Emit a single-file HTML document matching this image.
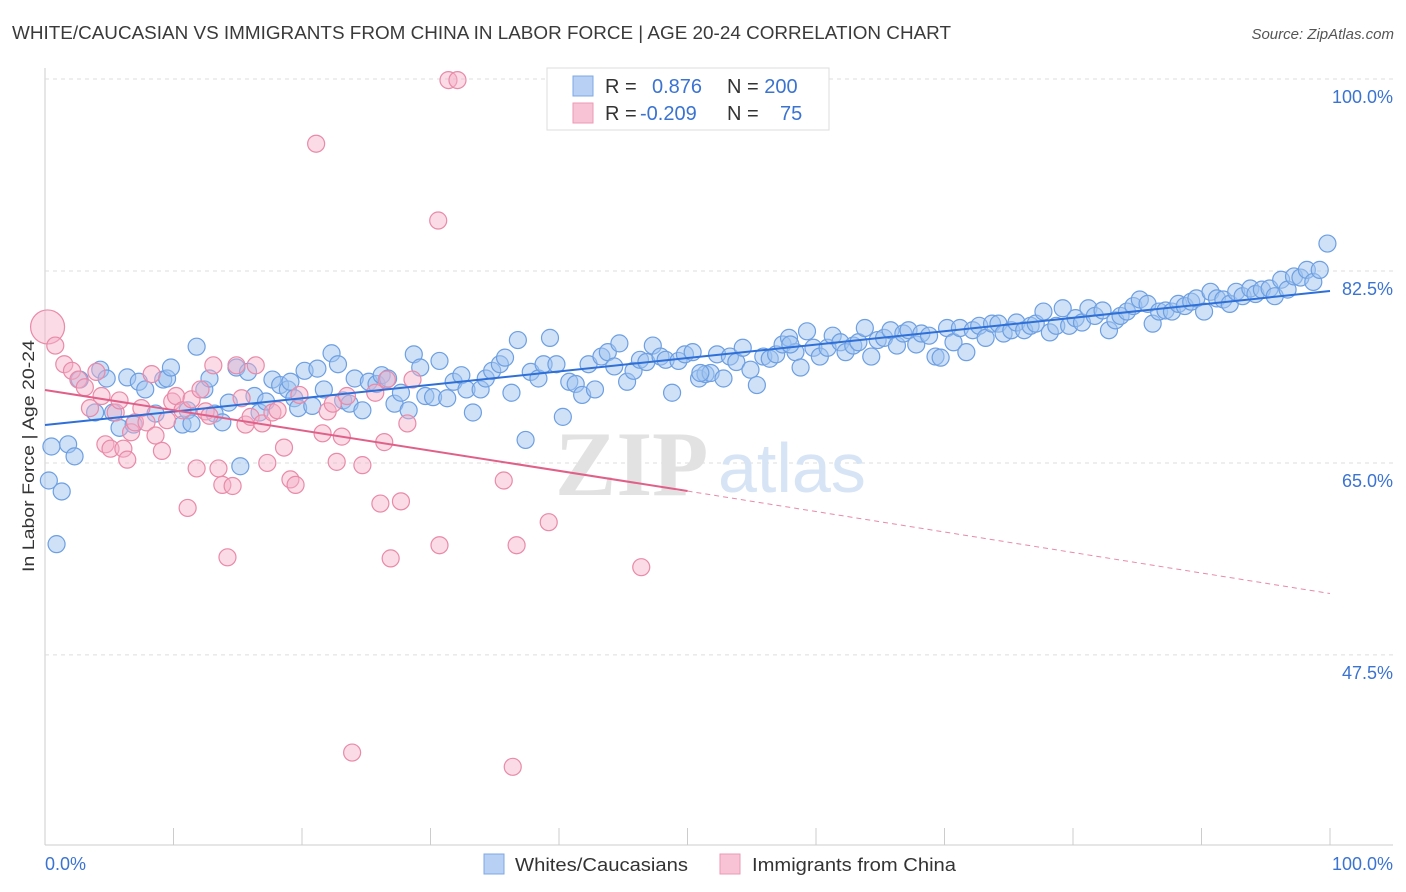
<!DOCTYPE html>
<html><head><meta charset="utf-8"><style>
body{margin:0;background:#fff;width:1406px;height:892px;overflow:hidden;font-family:"Liberation Sans",sans-serif}
</style></head><body>
<svg width="1406" height="892" style="position:absolute;left:0;top:0">
<text x="12" y="39" font-size="18" fill="#3a3a3a" textLength="939" lengthAdjust="spacingAndGlyphs">WHITE/CAUCASIAN VS IMMIGRANTS FROM CHINA IN LABOR FORCE | AGE 20-24 CORRELATION CHART</text>
<text x="1394" y="39" font-size="15" fill="#555" font-style="italic" text-anchor="end">Source: ZipAtlas.com</text>
<g id="grid"></g>
<text x="555" y="495" font-size="92" fill="#e2e2e2" font-family="Liberation Serif,serif" font-weight="bold">ZIP</text>
<text x="718" y="492" font-size="70" fill="#d6e4f5">atlas</text>
<g id="pts"></g>
<g id="lines"></g>
<text transform="translate(34,456) rotate(-90)" font-size="17" fill="#333" text-anchor="middle" textLength="232" lengthAdjust="spacingAndGlyphs">In Labor Force | Age 20-24</text>
<text x="45" y="870" font-size="18" fill="#3b73d1">0.0%</text>
<text x="1393" y="870" font-size="18" fill="#3b73d1" text-anchor="end">100.0%</text>
<g>
<rect x="547" y="68" width="282" height="62" fill="#fff" stroke="#ddd"/>
<rect x="573" y="76" width="20" height="20" fill="#b7d0f3" stroke="#7ea8e4"/>
<rect x="573" y="103" width="20" height="20" fill="#f8c3d4" stroke="#ea9ab5"/>
<text x="605" y="93" font-size="20" fill="#333">R = <tspan fill="#3b73d1" x="652">0.876</tspan><tspan x="727" fill="#333">N = </tspan><tspan fill="#3b73d1">200</tspan></text>
<text x="605" y="120" font-size="20" fill="#333">R = <tspan fill="#3b73d1" x="640">-0.209</tspan><tspan x="727" fill="#333">N = </tspan><tspan fill="#3b73d1" x="780">75</tspan></text>
</g>
<g>
<rect x="484" y="854" width="20" height="20" fill="#b7d0f3" stroke="#7ea8e4"/>
<text x="515" y="871" font-size="18" fill="#333" textLength="173" lengthAdjust="spacingAndGlyphs">Whites/Caucasians</text>
<rect x="720" y="854" width="20" height="20" fill="#f8c3d4" stroke="#ea9ab5"/>
<text x="752" y="871" font-size="18" fill="#333" textLength="204" lengthAdjust="spacingAndGlyphs">Immigrants from China</text>
</g>
</svg>
<script>
const yTicks=[100,82.5,65,47.5];
const yTickLabels=["100.0%","82.5%","65.0%","47.5%"];
const xTicks=[0,10,20,30,40,50,60,70,80,90,100];
const blueX=[0.3,1.3,0.9,1.8,2.3,2.7,3.9,4.3,4.8,5.3,5.8,6.4,6.9,7.3,7.8,8.6,9.2,9.5,9.8,10.7,11.1,11.4,11.8,12.4,12.8,13.2,13.8,14.3,14.9,15.2,15.8,16.3,16.7,17.2,17.7,18.3,18.9,19.4,19.7,20.2,20.8,21.2,21.7,22.3,22.8,23.2,23.7,24.1,24.7,25.2,25.8,26.2,26.7,27.2,27.7,28.3,28.7,29.2,29.6,30.2,30.7,31.3,31.8,32.4,32.8,33.3,33.9,34.3,34.8,35.4,35.8,36.3,36.8,37.4,37.8,38.4,38.8,39.3,39.8,40.3,40.8,41.3,41.8,42.3,42.8,43.3,43.8,44.3,44.7,45.3,45.8,46.3,46.8,47.3,47.9,48.3,48.8,49.3,49.8,50.4,50.9,51.4,51.8,52.3,52.8,53.3,53.8,54.3,54.9,55.4,55.9,56.4,56.9,57.4,57.9,58.4,58.8,59.3,59.8,60.3,60.9,61.3,61.9,62.3,62.9,63.3,63.8,64.3,64.8,65.3,65.8,66.3,66.8,67.2,67.8,68.2,68.8,69.3,69.7,70.2,70.7,71.2,71.7,72.2,72.7,73.2,73.7,74.2,74.6,75.2,75.6,76.2,76.7,77.1,77.7,78.2,78.7,79.2,79.7,80.2,80.7,81.2,81.7,82.3,82.8,83.3,83.7,84.2,84.7,85.2,85.8,86.2,86.7,87.2,87.7,88.2,88.7,89.2,89.6,90.2,90.7,91.2,91.7,92.2,92.7,93.2,93.8,94.2,94.7,95.3,95.7,96.2,96.7,97.2,97.7,98.2,98.7,99.2,99.8,0.5,19.1,51.0,58.0];
const blueY=[63.4,62.4,57.6,66.7,65.6,72.6,69.6,73.5,72.7,69.6,68.2,72.8,68.5,72.4,71.7,69.5,72.6,72.7,73.7,68.5,69.8,68.6,75.6,71.7,72.7,69.5,68.7,70.5,73.7,64.7,73.3,71.1,69.6,70.6,72.6,72.1,71.7,70.9,70.0,73.4,70.2,73.6,71.7,75.0,74.0,70.7,70.4,72.7,69.8,72.4,72.2,73.0,72.7,70.4,71.4,69.8,74.9,73.7,71.1,71.0,74.3,70.9,72.4,73.0,71.7,69.6,71.7,72.7,73.4,74.0,74.6,71.4,76.2,67.1,73.3,72.7,74.0,76.4,74.0,69.2,72.4,72.2,71.2,74.0,71.7,74.7,75.1,73.8,75.9,72.4,73.4,74.4,74.2,75.7,74.7,74.4,71.4,74.3,74.9,75.1,72.7,73.1,73.2,74.9,72.7,74.7,74.2,75.5,73.5,72.1,74.7,74.5,74.9,75.8,76.4,75.1,73.7,77.0,75.5,74.7,75.5,76.6,76.0,75.1,75.7,76.0,77.3,74.7,76.2,76.4,77.1,75.7,76.8,77.1,75.8,76.8,76.6,74.7,74.6,77.3,76.0,77.3,75.1,77.1,77.5,76.4,77.7,77.7,76.8,77.1,77.8,77.1,77.5,77.7,78.8,76.9,77.5,79.1,77.5,78.2,77.8,79.1,78.4,78.9,77.1,78.0,78.4,78.8,79.3,79.9,79.5,77.7,78.8,78.9,78.8,79.5,79.3,79.7,80.0,78.8,80.6,80.0,79.9,79.5,80.6,80.2,80.9,80.4,80.8,80.9,80.2,81.7,80.8,82.0,81.9,82.6,81.5,82.6,85.0,66.5,72.4,73.2,75.8];
const pinkX=[0.2,0.8,1.5,2.1,2.6,3.1,3.5,4.0,4.4,4.7,5.1,5.5,5.8,6.1,6.4,6.7,7.0,7.5,7.9,8.3,8.6,9.1,9.5,9.9,10.2,10.7,11.1,11.4,11.8,12.1,12.5,12.8,13.1,13.5,13.8,14.2,14.6,14.9,15.3,15.6,16.0,16.4,16.9,17.3,17.7,18.1,18.6,19.1,19.5,19.8,21.1,21.6,22.0,22.4,22.7,23.1,23.5,23.9,24.7,25.7,26.1,26.4,26.6,26.9,27.7,28.2,28.6,30.7,30.6,31.4,32.1,35.7,36.4,36.7,39.2,46.4];
const pinkY=[77.4,75.7,74.0,73.4,72.6,71.9,70.0,73.3,71.1,66.7,66.3,69.6,70.7,66.3,65.3,67.8,68.7,70.0,68.7,73.1,67.5,66.1,68.9,70.6,71.1,69.8,60.9,70.8,64.5,71.7,69.7,69.3,73.9,64.5,63.0,56.4,62.9,73.9,70.9,68.5,69.2,73.9,68.6,65.0,69.6,69.8,66.4,63.5,63.0,71.2,94.1,67.7,69.7,70.4,65.1,67.4,71.1,38.6,64.8,71.4,61.3,66.9,72.6,56.3,61.5,68.6,72.6,57.5,87.1,99.9,99.9,63.4,37.3,57.5,59.6,55.5];
const blueFit=[68.46,80.67];
const pinkFit=[71.65,62.44,53.1];
const NS="http://www.w3.org/2000/svg";
const X=v=>45+v*12.85, Y=v=>79+(100-v)*10.97;
function mk(t,a,p){const e=document.createElementNS(NS,t);for(const k in a)e.setAttribute(k,a[k]);p.appendChild(e);return e;}
const grid=document.getElementById('grid');
mk('line',{x1:45,y1:68,x2:45,y2:845,stroke:'#ccc'},grid);
mk('line',{x1:45,y1:845,x2:1393,y2:845,stroke:'#ccc'},grid);
yTicks.forEach((t,i)=>{
 const l=mk('line',{x1:45,y1:Y(t),x2:1393,y2:Y(t),stroke:'#ddd','stroke-dasharray':'4,4'},grid);
 
 
 const tx=mk('text',{x:1393,y:Y(t)+24,'font-size':18,fill:'#3b73d1','text-anchor':'end'},grid);
 tx.textContent=yTickLabels[i];
 
 
});
xTicks.forEach(t=>{
 const l=mk('line',{x1:X(t),y1:828,x2:X(t),y2:845,stroke:'#ccc'},grid);
 
 
});
const pts=document.getElementById('pts');
blueX.forEach((x,i)=>{
 const c=mk('circle',{cx:X(x),cy:Y(blueY[i]),r:8.5,fill:'rgba(160,195,240,0.5)',stroke:'#6d9fe2','stroke-width':1.2},pts);
 
 
});
pinkX.forEach((x,i)=>{
 const c=mk('circle',{cx:X(x),cy:Y(pinkY[i]),r:i===0?17:8.5,fill:'rgba(245,175,200,0.45)',stroke:'#e98aa8','stroke-width':1.2},pts);
 
 
});
const ln=document.getElementById('lines');
const b=mk('line',{x1:X(0),y1:Y(blueFit[0]),x2:X(100),y2:Y(blueFit[1]),stroke:'#2e6fd8','stroke-width':2},ln);


const p1=mk('line',{x1:X(0),y1:Y(pinkFit[0]),x2:X(50),y2:Y(pinkFit[1]),stroke:'#e0608a','stroke-width':2},ln);


const p2=mk('line',{x1:X(50),y1:Y(pinkFit[1]),x2:X(100),y2:Y(pinkFit[2]),stroke:'#e88aa8','stroke-width':1,'stroke-dasharray':'5,4'},ln);


</script>
</body></html>
